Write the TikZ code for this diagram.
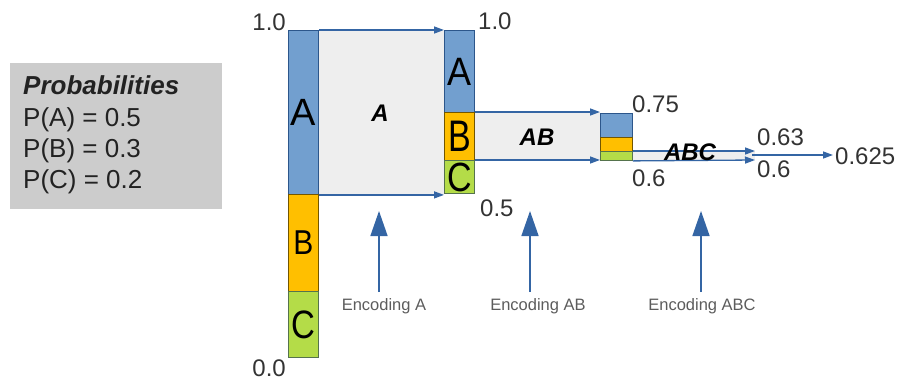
\documentclass[tikz,border=0pt]{standalone}
\usepackage{fontspec}
\setmainfont{Liberation Sans}
\usetikzlibrary{arrows.meta}
\definecolor{barblue}{HTML}{729FCF}
\definecolor{barorange}{HTML}{FFBF00}
\definecolor{bargreen}{HTML}{B4DC48}
\definecolor{lineblue}{HTML}{3465A4}
\definecolor{regiongray}{HTML}{EEEEEE}
\definecolor{boxgray}{HTML}{CCCCCC}
\definecolor{txt}{HTML}{222222}
\definecolor{numtxt}{HTML}{333333}
\tikzset{
  seg/.style={draw, line width=0.9pt, inner sep=0pt, anchor=north west, minimum width=#1, text=black},
  segA/.style={seg=#1, fill=barblue, draw=lineblue!85!black},
  segB/.style={seg=#1, fill=barorange, draw=black!55!barorange},
  segC/.style={seg=#1, fill=bargreen, draw=black!45!bargreen!70!lineblue},
  conn/.style={draw=lineblue, line width=1.3pt, -{Triangle[length=10pt,width=7pt]}},
  enc/.style={draw=lineblue, line width=1.5pt, -{Triangle[length=25pt,width=17pt]}},
  num/.style={inner sep=0pt, text=numtxt, font=\fontsize{24}{28}\selectfont},
  enclabel/.style={inner sep=0pt, text=numtxt!80, font=\fontsize{16.5}{19}\selectfont},
  region/.style={fill=regiongray},
  stagelabel/.style={inner sep=0pt, text=black, font=\fontsize{24}{28}\selectfont\bfseries\itshape},
  problabel/.style={inner sep=0pt, anchor=base west, text=txt, font=\fontsize{26}{30}\selectfont},
}
\begin{document}
\begin{tikzpicture}[x=1pt,y=-1pt]
\useasboundingbox (0,0) rectangle (899,381);
% probabilities box
\node[fill=boxgray, minimum width=212pt, minimum height=146pt, inner sep=0pt, anchor=north west] (probbox) at (10,63) {};
\node[problabel, font=\fontsize{26}{30}\selectfont\bfseries\itshape] (ptitle) at (23,94) {Probabilities};
\node[problabel] (pa) at (23,126) {P(A) = 0.5};
\node[problabel] (pb) at (23,157) {P(B) = 0.3};
\node[problabel] (pc) at (23,188) {P(C) = 0.2};
% gray regions
\fill[region] (318,31) rectangle (444,194);
\fill[region] (474,112) rectangle (600,160);
\fill[region] (632,151) rectangle (755,160);
% bar 1
\node[segA=30pt, minimum height=164pt] (a1) at (288,30) {\fontsize{38}{40}\selectfont A};
\node[segB=30pt, minimum height=97pt] (b1) at (288,194) {\scalebox{1}[1.15]{\fontsize{30}{32}\selectfont B}};
\node[segC=30pt, minimum height=66pt] (c1) at (288,291) {\scalebox{1}[1.2]{\fontsize{33}{35}\selectfont C}};
% bar 2
\node[segA=30pt, minimum height=82pt] (a2) at (444,30) {\scalebox{1}[1.1]{\fontsize{36}{38}\selectfont A}};
\node[segB=30pt, minimum height=48pt] (b2) at (444,112) {\scalebox{1}[1.3]{\fontsize{34}{36}\selectfont B}};
\node[segC=30pt, minimum height=33pt] (c2) at (444,160) {\scalebox{1}[1.2]{\fontsize{34}{36}\selectfont C}};
% bar 3
\node[segA=32pt, minimum height=24pt] (a3) at (600,113) {};
\node[segB=32pt, minimum height=14pt] (b3) at (600,137) {};
\node[segC=32pt, minimum height=9pt] (c3) at (600,151) {};
% connectors
\draw[conn] (a1.north east) -- (a1.north east -| a2.west);
\draw[conn] (a1.south east) -- (a1.south east -| c2.west);
\draw[conn] (b2.north east) -- (b2.north east -| a3.west);
\draw[conn] (c2.north east) -- (c2.north east -| c3.west);
\coordinate (e3top) at (755,151);
\coordinate (e3bot) at (755,160);
\coordinate (fstart) at (752,155);
\coordinate (fend) at (833,155);
\draw[conn] (c3.north east) -- (e3top);
\draw[conn] (c3.south east) -- (e3bot);
\draw[conn] (fstart) -- (fend);
% stage labels
\node[stagelabel] (la) at (380,113) {A};
\node[stagelabel] (lab) at (537,137) {AB};
\node[stagelabel] (labc) at (690,152) {ABC};
% numbers
\node[num, anchor=base east] (n10a) at (286,30) {1.0};
\node[num, anchor=base east] (n00) at (286,376) {0.0};
\node[num, anchor=base west] (n10b) at (478,29) {1.0};
\node[num, anchor=base west] (n05) at (480,216) {0.5};
\node[num, anchor=base west] (n075) at (632,112) {0.75};
\node[num, anchor=base west] (n06a) at (632,186) {0.6};
\node[num, anchor=base west] (n063) at (757,145) {0.63};
\node[num, anchor=base west] (n06b) at (757,177) {0.6};
\node[num, anchor=base west] (n0625) at (835,164) {0.625};
% encoding arrows
\coordinate (ea0) at (379,292); \coordinate (ea1) at (379,211);
\coordinate (eb0) at (530,292); \coordinate (eb1) at (530,211);
\coordinate (ec0) at (701,292); \coordinate (ec1) at (701,211);
\draw[enc] (ea0) -- (ea1);
\draw[enc] (eb0) -- (eb1);
\draw[enc] (ec0) -- (ec1);
\node[enclabel, anchor=base] (tea) at (384,310) {Encoding A};
\node[enclabel, anchor=base] (teb) at (538,310) {Encoding AB};
\node[enclabel, anchor=base] (tec) at (702,310) {Encoding ABC};
\end{tikzpicture}
\end{document}
